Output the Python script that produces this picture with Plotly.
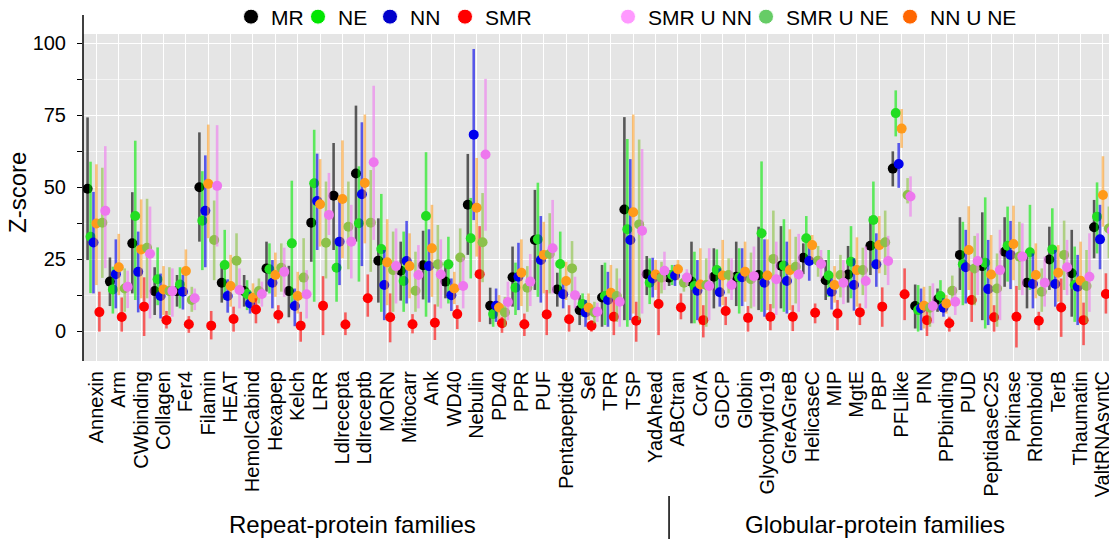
import plotly.graph_objects as go

families = ["Annexin", "Arm", "CWbinding", "Collagen", "Fer4", "Filamin", "HEAT", "HemolCabind",
            "Hexapep", "Kelch", "LRR", "Ldlrecepta", "Ldlreceptb", "MORN", "Mitocarr", "Ank",
            "WD40", "Nebulin", "PD40", "PPR", "PUF", "Pentapeptide", "Sel", "TPR", "TSP",
            "YadAhead", "ABCtran", "CorA", "GDCP", "Globin", "Glycohydro19", "GreAGreB",
            "HelicaseC", "MIP", "MgtE", "PBP", "PFLlike", "PIN", "PPbinding", "PUD",
            "PeptidaseC25", "Pkinase", "Rhomboid", "TerB", "Thaumatin", "ValtRNAsyntC"]

# Z-score: point, lower and upper end of the bar, one value per family
MR_mid = [49.5, 17.2, 30.5, 13.9, 13.9, 50.0, 16.8, 13.9, 21.8, 13.9,
          37.7, 47.1, 54.8, 24.5, 21.0, 22.9, 17.2, 43.9, 8.8, 18.7,
          31.7, 14.5, 7.3, 11.7, 42.3, 19.8, 18.6, 17.2, 18.9, 18.9,
          19.5, 22.7, 25.5, 17.7, 19.7, 29.7, 56.5, 8.7, 11.0, 26.5,
          22.6, 27.6, 16.8, 24.9, 20.1, 36.1]
MR_lo = [24.7, 8.7, 13.1, 5.6, 8.5, 31.1, 9.9, 8.5, 13.7, 4.8,
         24.1, 28.2, 31.1, 9.9, 10.6, 11.0, 11.4, 26.5, 2.4, 8.5,
         14.3, 8.5, 2.1, 1.5, 3.8, 12.5, 15.7, 2.7, 7.9, 8.7,
         7.3, 7.9, 19.8, 10.8, 9.9, 19.5, 50.3, 0.9, 6.7, 14.3,
         3.8, 15.4, 7.9, 14.3, 5.0, 25.3]
MR_hi = [74.3, 25.6, 48.3, 22.2, 19.5, 69.1, 23.5, 19.5, 31.1, 22.7,
         51.5, 65.4, 78.4, 39.2, 31.1, 34.9, 23.5, 61.6, 15.1, 29.4,
         49.1, 20.3, 12.5, 23.0, 74.4, 26.1, 21.2, 31.1, 28.8, 31.1,
         36.3, 36.5, 30.5, 24.7, 29.6, 39.8, 62.5, 16.2, 14.8, 39.6,
         41.3, 39.6, 27.0, 36.3, 35.2, 45.6]

NE_mid = [32.8, 14.5, 40.0, 18.0, 16.2, 38.4, 23.0, 12.9, 21.5, 30.5,
          51.4, 22.0, 37.5, 28.5, 17.4, 40.0, 23.2, 32.3, 5.9, 15.1,
          31.9, 23.3, 9.4, 12.2, 35.4, 16.8, 19.5, 15.7, 21.2, 18.7,
          34.0, 22.7, 32.3, 19.3, 24.1, 38.6, 75.8, 7.3, 12.2, 23.2,
          23.8, 29.7, 27.4, 28.4, 16.0, 39.8]
NE_lo = [13.2, 6.1, 10.8, 9.0, 7.9, 21.2, 10.8, 7.3, 13.1, 9.4,
         10.2, 10.2, 17.2, 6.7, 6.7, 5.0, 9.6, 18.3, 1.5, 5.6,
         11.9, 13.1, 5.0, 2.1, 1.5, 9.4, 16.0, 2.7, 13.1, 6.1,
         6.7, 6.7, 24.1, 11.9, 11.4, 21.8, 67.7, -0.2, 8.5, 9.0,
         0.9, 17.2, 14.3, 15.4, 3.2, 27.0]
NE_hi = [58.9, 22.4, 66.2, 29.1, 22.2, 55.6, 35.2, 17.7, 30.5, 52.3,
         70.0, 32.3, 57.3, 47.7, 34.6, 62.2, 32.8, 46.3, 7.9, 23.8,
         51.6, 34.6, 13.1, 23.8, 66.8, 25.3, 23.0, 27.6, 28.4, 28.8,
         59.0, 38.9, 40.0, 28.2, 36.5, 52.0, 83.7, 16.0, 17.7, 38.0,
         46.5, 43.3, 43.9, 42.7, 29.4, 51.7]

NN_mid = [30.8, 19.8, 20.6, 12.2, 13.7, 41.8, 12.2, 9.6, 16.8, 8.7,
          45.2, 31.1, 47.6, 16.0, 24.4, 22.6, 12.5, 68.3, 8.8, 18.9,
          24.7, 12.8, 6.5, 10.8, 31.7, 18.3, 19.3, 14.0, 13.5, 18.7,
          16.8, 17.4, 24.4, 13.7, 16.0, 23.2, 58.1, 7.9, 8.1, 22.2,
          14.6, 26.5, 16.4, 16.4, 15.4, 31.9]
NN_lo = [13.1, 7.9, 6.5, 4.4, 7.5, 22.2, 6.4, 6.1, 7.9, 1.7,
         28.2, 16.0, 22.6, 3.8, 9.6, 9.9, 7.0, 38.6, 3.2, 7.3,
         9.9, 7.9, 1.5, 1.5, 3.8, 11.7, 15.7, 3.8, 8.5, 8.7,
         5.0, 6.1, 17.5, 7.5, 7.1, 15.4, 49.8, 0.3, 5.0, 9.6,
         2.1, 14.6, 7.9, 8.5, 2.1, 21.5]
NN_hi = [48.4, 31.9, 34.6, 20.0, 19.5, 61.1, 18.0, 13.7, 24.7, 14.8,
         61.7, 46.8, 72.6, 28.2, 38.3, 35.4, 18.3, 98.1, 14.8, 30.7,
         40.0, 17.2, 10.8, 20.6, 59.8, 25.5, 23.0, 24.7, 21.8, 28.8,
         31.9, 31.1, 31.1, 18.3, 25.3, 34.0, 65.4, 14.8, 11.4, 35.2,
         31.7, 38.3, 27.0, 28.2, 26.5, 43.9]

NNUNE_mid = [37.4, 22.2, 28.4, 14.5, 20.9, 51.2, 15.7, 11.6, 19.5, 12.2,
             44.1, 45.9, 51.5, 23.9, 22.6, 28.8, 14.8, 42.9, 8.2, 20.3,
             26.5, 17.4, 8.1, 13.3, 41.3, 19.7, 21.5, 16.2, 19.3, 20.6,
             19.3, 21.2, 29.9, 16.0, 21.2, 29.9, 70.4, 8.8, 9.6, 28.2,
             19.7, 30.3, 19.5, 20.3, 17.5, 47.3]
NNUNE_lo = [16.0, 12.5, 11.4, 5.6, 12.5, 32.3, 8.5, 7.3, 11.9, 6.1,
            29.4, 25.3, 30.5, 9.0, 11.4, 11.9, 9.4, 25.9, 3.2, 8.7,
            13.1, 10.8, 3.8, 3.8, 6.1, 14.3, 17.7, 2.1, 9.0, 10.2,
            7.3, 7.3, 24.7, 9.9, 8.5, 20.1, 63.7, 0.9, 6.1, 14.3,
            5.0, 17.7, 11.4, 10.2, 4.4, 36.3]
NNUNE_hi = [58.0, 33.8, 45.8, 22.6, 28.4, 71.8, 26.5, 16.6, 27.3, 20.6,
            59.8, 66.3, 75.3, 38.9, 34.0, 43.9, 20.6, 60.2, 12.5, 31.9,
            38.0, 24.1, 13.1, 23.0, 75.3, 24.7, 24.7, 28.8, 31.7, 31.1,
            31.9, 35.4, 33.4, 22.6, 32.6, 40.0, 77.2, 15.4, 12.5, 43.4,
            33.4, 43.6, 30.5, 29.9, 31.1, 60.8]

SMR_mid = [6.6, 4.9, 8.5, 3.8, 2.4, 1.9, 4.2, 7.5, 5.6, 1.9,
           8.8, 2.3, 11.4, 4.8, 2.4, 2.9, 5.9, 19.8, 2.7, 2.4,
           5.8, 4.1, 1.9, 5.0, 3.6, 9.4, 8.2, 3.8, 7.0, 4.6,
           5.0, 5.0, 6.4, 6.1, 6.5, 8.5, 12.8, 3.8, 2.7, 10.8,
           4.8, 5.0, 3.6, 8.2, 3.8, 12.9]
SMR_lo = [-0.2, -0.2, -1.7, 0.9, -0.6, -2.9, -0.2, 2.7, 2.7, -3.7,
          -1.4, -1.4, 5.0, -3.9, -0.8, -3.1, 0.7, 3.2, -0.6, -1.7,
          -1.4, -0.2, -0.2, -1.4, -3.7, -1.4, 4.1, -2.2, 2.1, -0.2,
          0.3, 0.0, 2.7, 0.3, 2.1, 1.5, 3.8, -1.7, -0.2, 3.2,
          -0.2, -5.7, 0.3, -2.0, -4.9, 6.1]
SMR_hi = [13.7, 11.7, 18.7, 7.0, 5.2, 7.0, 8.5, 11.4, 9.0, 6.7,
          19.1, 6.5, 19.7, 13.1, 5.9, 9.3, 9.0, 36.5, 5.0, 6.1,
          14.3, 9.0, 3.8, 12.5, 10.2, 20.1, 13.1, 9.0, 11.9, 8.7,
          9.4, 9.0, 9.6, 10.8, 9.6, 15.2, 21.8, 7.9, 5.0, 21.5,
          9.0, 15.7, 6.7, 18.3, 9.9, 20.1]

SMRUNE_mid = [37.7, 14.8, 29.0, 13.9, 10.8, 31.7, 24.5, 13.9, 22.0, 18.6,
              30.7, 36.3, 37.7, 21.2, 14.0, 23.2, 25.6, 30.9, 6.5, 15.1,
              26.8, 21.8, 6.5, 12.2, 37.1, 18.6, 16.8, 16.0, 19.5, 18.0,
              25.1, 22.4, 24.5, 19.5, 21.2, 30.9, 47.3, 8.1, 14.0, 21.8,
              14.8, 25.9, 13.7, 26.5, 15.7, 35.7]
SMRUNE_lo = [18.5, 6.7, 11.4, 5.6, 6.7, 17.7, 14.8, 9.6, 13.7, 11.4,
             18.3, 21.5, 20.6, 6.7, 6.7, 8.5, 14.3, 17.0, 1.5, 6.7,
             13.1, 13.1, 2.7, 3.2, 3.8, 13.1, 13.7, 1.5, 13.1, 7.9,
             7.9, 9.6, 18.9, 11.7, 12.5, 19.5, 44.4, 1.5, 9.6, 9.0,
             1.5, 14.3, 6.7, 14.3, 2.7, 25.3]
SMRUNE_hi = [56.8, 21.8, 46.0, 22.2, 15.4, 45.4, 34.0, 18.3, 30.5, 32.3,
             52.0, 52.0, 56.0, 34.6, 27.6, 36.9, 35.7, 48.0, 11.9, 22.6,
             41.0, 31.3, 10.2, 21.8, 66.6, 24.1, 19.5, 25.3, 25.3, 27.3,
             41.9, 32.8, 29.6, 26.5, 29.0, 41.9, 53.2, 15.7, 19.3, 33.1,
             27.0, 38.0, 21.8, 38.4, 28.2, 43.3]

SMRUNN_mid = [41.8, 15.4, 26.9, 13.9, 11.4, 50.5, 14.3, 12.9, 20.6, 12.8,
              40.4, 31.1, 58.7, 22.6, 19.5, 19.7, 15.7, 61.4, 10.1, 17.2,
              28.8, 12.5, 6.7, 10.2, 34.9, 21.0, 18.6, 15.7, 16.0, 19.1,
              18.0, 19.7, 23.3, 16.8, 17.4, 24.4, 46.8, 8.7, 10.2, 24.4,
              21.2, 25.9, 16.8, 22.2, 18.9, 35.0]
SMRUNN_lo = [21.9, 8.0, 4.4, 5.0, 7.3, 29.4, 7.9, 8.5, 11.9, 4.4,
             33.4, 18.3, 31.7, 9.6, 7.9, 7.9, 7.9, 34.9, 3.8, 8.7,
             13.1, 7.9, 3.2, 1.5, 6.1, 14.3, 15.7, 3.8, 10.8, 8.5,
             5.6, 6.7, 18.3, 9.4, 7.9, 16.0, 39.8, 2.7, 5.6, 12.5,
             3.8, 12.5, 8.5, 12.5, 6.7, 25.0]
SMRUNN_hi = [64.3, 21.0, 43.3, 21.8, 14.8, 71.6, 21.8, 17.2, 29.0, 21.2,
             55.0, 43.9, 85.3, 35.7, 29.9, 31.9, 25.6, 87.7, 17.2, 26.8,
             45.6, 18.9, 9.9, 18.3, 63.3, 27.6, 21.5, 28.8, 25.3, 29.4,
             31.1, 33.8, 28.2, 24.7, 29.4, 33.1, 53.8, 16.6, 15.4, 34.0,
             35.2, 37.5, 25.9, 31.7, 34.0, 45.0]

# dodge order inside a family (alphabetical, as in the original)
series = [
    ("MR", MR_mid, MR_lo, MR_hi, "#000000", "rgba(0,0,0,0.62)"),
    ("NE", NE_mid, NE_lo, NE_hi, "#22DD22", "rgba(0,235,0,0.6)"),
    ("NN", NN_mid, NN_lo, NN_hi, "#0000EE", "rgba(0,0,235,0.62)"),
    ("NN U NE", NNUNE_mid, NNUNE_lo, NNUNE_hi, "#FF9A1A", "rgba(255,160,40,0.6)"),
    ("SMR", SMR_mid, SMR_lo, SMR_hi, "#FF0000", "rgba(255,0,0,0.6)"),
    ("SMR U NE", SMRUNE_mid, SMRUNE_lo, SMRUNE_hi, "#8CC14A", "rgba(140,195,70,0.62)"),
    ("SMR U NN", SMRUNN_mid, SMRUNN_lo, SMRUNN_hi, "#EE77EE", "rgba(238,120,238,0.6)"),
]
step = 0.132

fig = go.Figure()
for k, (name, mid, lo, hi, dot, bar) in enumerate(series):
    xs = [i + (k - 3) * step for i in range(len(families))]
    fig.add_trace(go.Scatter(
        x=xs, y=mid, mode="markers", name=name, showlegend=False,
        marker=dict(size=10, color=dot),
        error_y=dict(type="data", symmetric=False,
                     array=[h - m for h, m in zip(hi, mid)],
                     arrayminus=[m - l for m, l in zip(mid, lo)],
                     color=bar, thickness=2.6, width=0)))

# legend entries: (name, colour, marker centre in px)
legend_items = [("MR", "#000000", 256), ("NE", "#00E600", 323), ("NN", "#0000CC", 395),
                ("SMR", "#FF0000", 470), ("SMR U NN", "#FF99FF", 633),
                ("SMR U NE", "#66CC66", 771), ("NN U NE", "#FF6600", 915)]
W, H = 1109, 539
legends = {}
for n, (name, col, px) in enumerate(legend_items):
    key = "legend" if n == 0 else "legend%d" % (n + 1)
    fig.add_trace(go.Scatter(
        x=[None], y=[None], mode="markers", name=name, legend=key,
        marker=dict(size=15, color=col, line=dict(color="white", width=1))))
    legends[key] = dict(xref="container", yref="container", x=(px - 25) / W, y=1 - 17 / H,
                        xanchor="left", yanchor="middle", bgcolor="rgba(0,0,0,0)",
                        font=dict(size=21, color="black"), itemsizing="trace")

font = "Liberation Sans, Arial, Helvetica, sans-serif"
fig.update_layout(
    width=W, height=H,
    paper_bgcolor="white", plot_bgcolor="#E5E5E5",
    font=dict(family=font, size=20, color="black"),
    margin=dict(l=83, r=0, t=34, b=178, autoexpand=False),
    showlegend=True,
    xaxis=dict(
        range=[-0.6, 45.27], tickmode="array", tickvals=list(range(len(families))),
        ticktext=families, tickangle=-90, ticks="", showline=False, zeroline=False,
        showgrid=True, gridcolor="white", gridwidth=1.4, automargin=False,
        ticklabeloverflow="allow",
        tickfont=dict(size=20, color="black"), ticklabelstandoff=5),
    yaxis=dict(
        range=[-10.4, 103.3], tickmode="array", tickvals=[0, 25, 50, 75, 100],
        ticks="outside", ticklen=5, tickwidth=1.3, tickcolor="black", automargin=False,
        showline=False, zeroline=False, showgrid=True, gridcolor="white", gridwidth=1.4,
        tickfont=dict(size=20, color="black"), ticklabelstandoff=7,
        minor=dict(tickvals=[12.5, 37.5, 62.5, 87.5], ticks="outside", ticklen=5,
                   tickwidth=1.3, tickcolor="black", showgrid=True,
                   gridcolor="#F4F4F4", gridwidth=0.7)),
    shapes=[
        dict(type="line", xref="paper", yref="paper", x0=0, x1=0, y0=0, y1=1.058,
             line=dict(color="black", width=1.5), layer="above"),
        dict(type="line", xref="paper", yref="paper", x0=0.5712, x1=0.5712,
             y0=-0.413, y1=-0.544, line=dict(color="black", width=1.5)),
    ],
    annotations=[
        dict(text="Z-score", xref="paper", yref="paper", x=-0.0634, y=0.517,
             textangle=-90, showarrow=False, font=dict(size=24),
             xanchor="center", yanchor="middle"),
        dict(text="Repeat-protein families", xref="paper", yref="paper", x=0.263, y=-0.5015,
             showarrow=False, font=dict(size=24), xanchor="center", yanchor="middle"),
        dict(text="Globular-protein families", xref="paper", yref="paper", x=0.772, y=-0.5015,
             showarrow=False, font=dict(size=24), xanchor="center", yanchor="middle"),
    ],
    **legends,
)

# the page body has a default 8px margin; drop it so the figure sits at the corner
fig.write_html("out.html", config={"displayModeBar": False},
               post_script="document.body.style.margin='0';")
